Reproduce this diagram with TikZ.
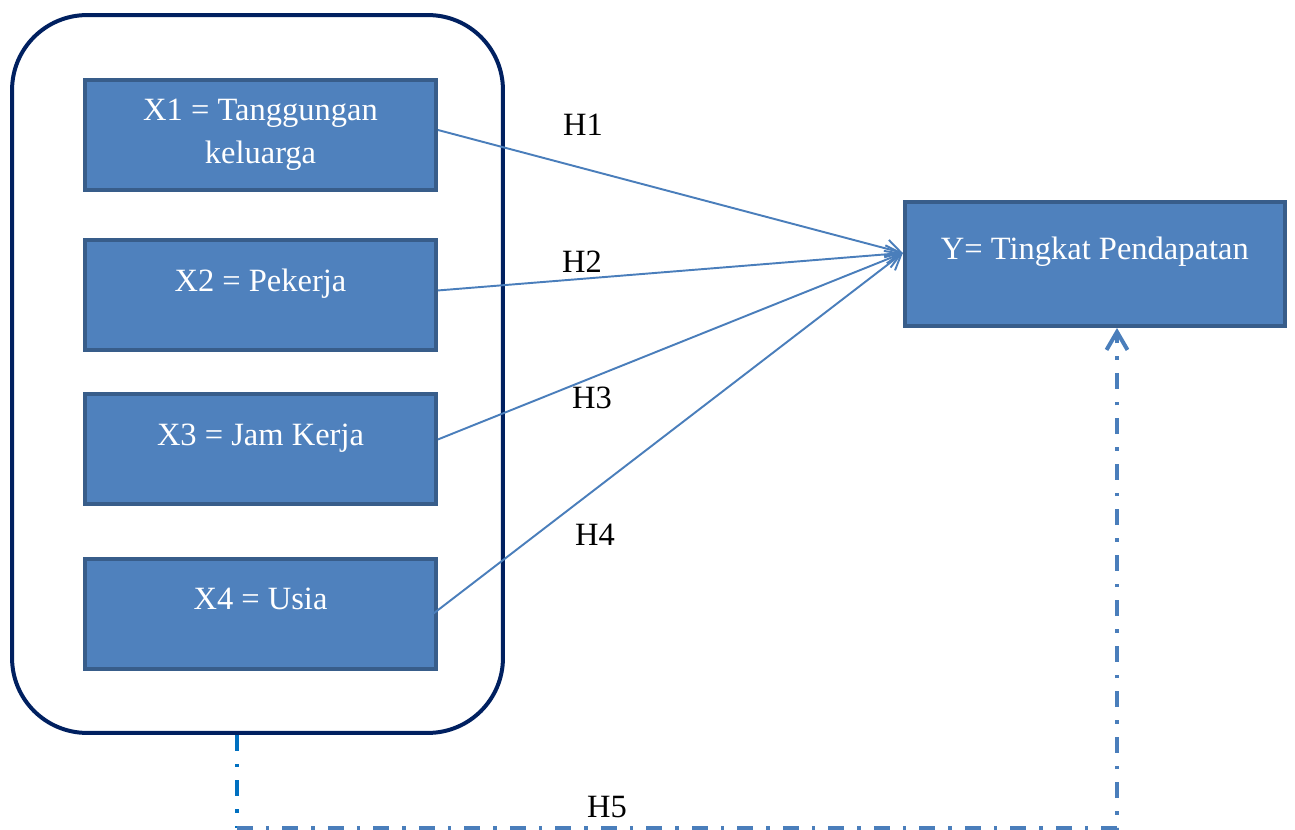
\documentclass[tikz,border=0pt]{standalone}
\usepackage{fontspec}
\setmainfont{Liberation Serif}
\usetikzlibrary{positioning,arrows.meta}

\definecolor{boxfill}{HTML}{4F81BD}
\definecolor{boxline}{HTML}{385D8A}
\definecolor{navy}{HTML}{002060}
\definecolor{linkblue}{HTML}{4A7EBB}
\definecolor{dotblue}{HTML}{0070C0}

\tikzset{
  var/.style={draw=boxline, fill=boxfill, line width=0.08cm, text=white,
    minimum width=7.02cm, minimum height=2.2cm, align=center,
    font=\fontsize{18.5}{24.4}\selectfont},
  toptext/.style={text height=0.5cm, text depth=0.66cm},
  hyp/.style={draw=linkblue, line width=1.1pt,
    -{Straight Barb[length=0.3cm,width=0.36cm]}},
  dashdot/.style={line width=0.08cm,
    dash pattern=on 0.32cm off 0.26cm on 0.07cm off 0.26cm},
  lbl/.style={font=\fontsize{18.5}{22}\selectfont}
}

\begin{document}
\begin{tikzpicture}[x=0.02cm, y=-0.02cm, node distance=2cm, on grid]

    \useasboundingbox (0,0) rectangle (1295,830);

    % group of independent variables
    \node[draw=navy, line width=0.08cm, rounded corners=1.5cm,
      minimum width=9.82cm, minimum height=14.36cm] (group) at (257.5,374) {};

    \node[var] (x1) at (260.5,135) {X1 = Tanggungan\\keluarga};
    \node[var, toptext] (x2) [below=3.21cm of x1] {X2 = Pekerja};
    \node[var, toptext] (x3) [below=3.08cm of x2] {X3 = Jam Kerja};
    \node[var, toptext] (x4) [below=3.29cm of x3] {X4 = Usia};

    \node[var, toptext, minimum width=7.6cm, minimum height=2.48cm] (y)
      [right=16.69cm of x2, yshift=0.63cm] {Y= Tingkat Pendapatan};

    % hypothesis labels
    \node[lbl] (h1) at (583,125) {H1};
    \node[lbl] (h2) at (582,262) {H2};
    \node[lbl] (h3) at (592,398) {H3};
    \node[lbl] (h4) at (595,535) {H4};
    \node[lbl] (h5) at (607,807) {H5};

    \path
    ([yshift=0.1cm]x1.east) edge[hyp] ([yshift=0.22cm]y.west)
    ([yshift=0.1cm]x2.east) edge[hyp] ([yshift=0.22cm]y.west)
    ([yshift=0.2cm]x3.east) edge[hyp] ([yshift=0.22cm]y.west)
    ([xshift=-0.1cm]x4.east) edge[hyp] ([yshift=0.22cm]y.west);

    % simultaneous effect
    \coordinate (h5l) at (237,828);
    \coordinate (h5r) at (1117,828);
    \draw[dashdot, dotblue] (group.south -| h5l) -- (h5l);
    \draw[dashdot, linkblue, -{Straight Barb[length=0.36cm,width=0.42cm]}]
    (h5l) -- (h5r) -- (y.south -| h5r);

  \end{tikzpicture}
\end{document}
